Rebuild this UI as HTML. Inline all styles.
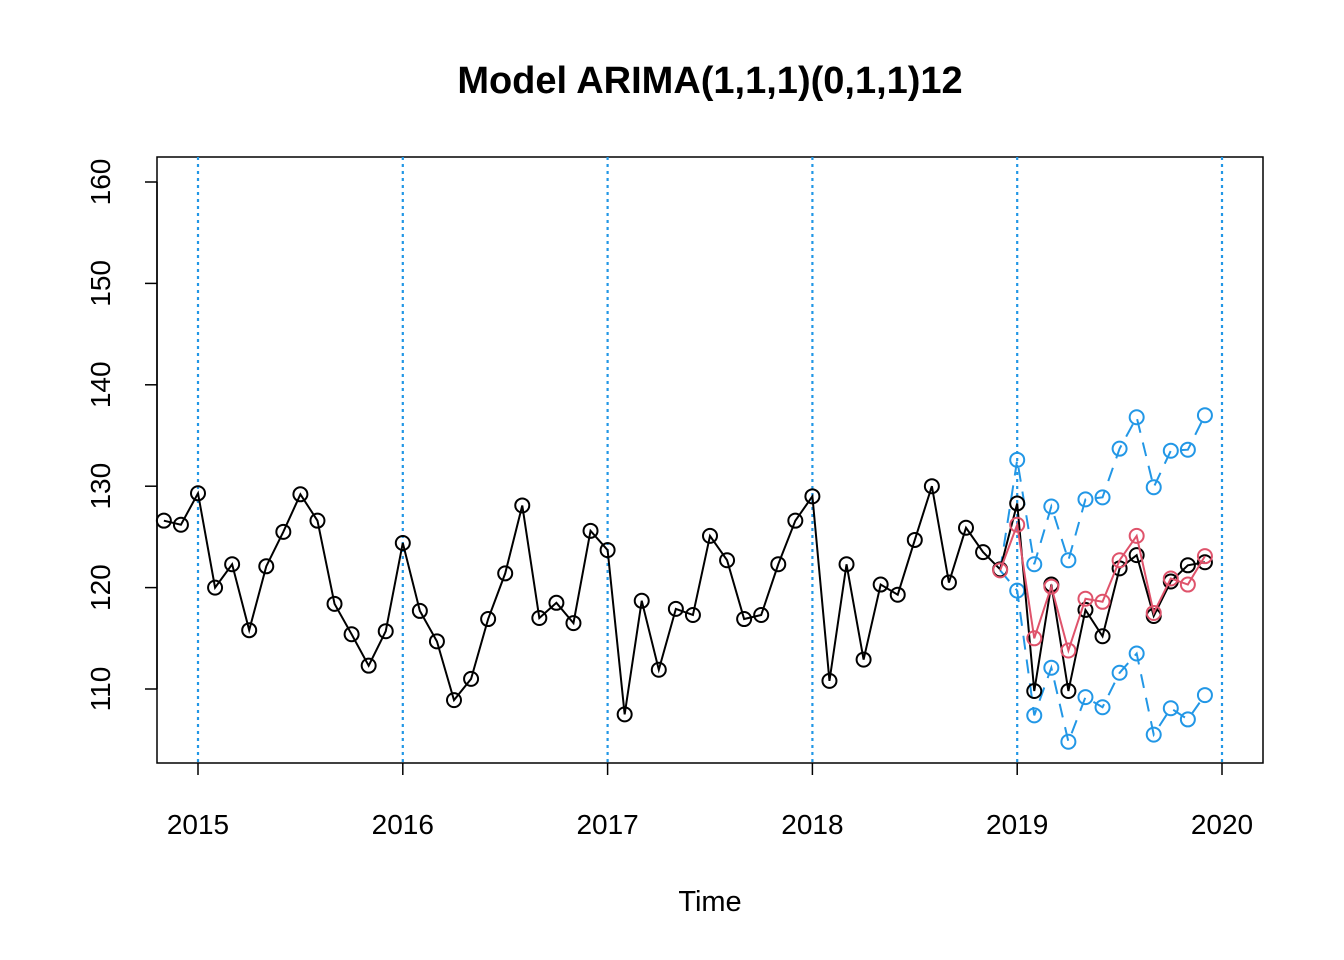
<!DOCTYPE html>
<html><head><meta charset="utf-8"><style>
body{margin:0;background:#fff}
svg{display:block;font-family:"Liberation Sans",Arial,sans-serif}
</style></head><body>
<svg id="chart" width="1344" height="960"></svg>
<script>
const startYear = 2014 + 10/12;
const observed = [126.6,126.2,129.3,120.0,122.3,115.8,122.1,125.5,129.2,126.6,118.4,115.4,112.3,115.7,124.4,117.7,114.7,108.9,111.0,116.9,121.4,128.1,117.0,118.5,116.5,125.6,123.7,107.5,118.7,111.9,117.9,117.3,125.1,122.7,116.9,117.3,122.3,126.6,129.0,110.8,122.3,112.9,120.3,119.3,124.7,130.0,120.5,125.9,123.5,121.8,128.3,109.8,120.3,109.8,117.8,115.2,121.9,123.2,117.2,120.6,122.2,122.5];
const fcStart = 2018 + 11/12;
const forecast = [121.7,126.2,115.0,120.1,113.8,118.9,118.6,122.7,125.1,117.5,120.9,120.3,123.1];
const upper = [132.6,122.3,128.0,122.7,128.7,128.9,133.7,136.8,129.9,133.5,133.6,137.0];
const lower = [119.7,107.4,112.1,104.8,109.2,108.2,111.6,113.5,105.5,108.1,107.0,109.4];
const yTicks = [110,120,130,140,150,160];
const xTicks = [2015,2016,2017,2018,2019,2020];

const NS="http://www.w3.org/2000/svg";
const svg=document.getElementById('chart');
const X=t=>198+(t-2015)*204.8;
const Y=v=>689-(v-110)*10.14;
function mk(tag,a,parent){const e=document.createElementNS(NS,tag);for(const k in a)e.setAttribute(k,a[k]);(parent||svg).appendChild(e);return e;}

const title=mk('text',{x:710,y:93,'text-anchor':'middle','font-size':38,'font-weight':'bold'});
title.textContent='Model ARIMA(1,1,1)(0,1,1)12';


const xt=mk('text',{x:710,y:911,'text-anchor':'middle','font-size':29});
xt.textContent='Time';



const box=mk('rect',{x:157,y:157,width:1106,height:606,fill:'none',stroke:'#000','stroke-width':1.5});



yTicks.forEach(v=>{
  const l=mk('line',{x1:145,x2:157,y1:Y(v),y2:Y(v),stroke:'#000','stroke-width':1.5});
  
  
  const t=mk('text',{x:110,y:Y(v),'text-anchor':'middle','font-size':28,transform:`rotate(-90 110 ${Y(v)})`});
  t.textContent=v;
  
  
});
mk('line',{x1:157,x2:157,y1:Y(110),y2:Y(160),stroke:'#000','stroke-width':1.5});
xTicks.forEach(v=>{
  const l=mk('line',{x1:X(v),x2:X(v),y1:763,y2:775,stroke:'#000','stroke-width':1.5});
  
  
  const t=mk('text',{x:X(v),y:834,'text-anchor':'middle','font-size':28});
  t.textContent=v;
  
  
  const g=mk('line',{x1:X(v),x2:X(v),y1:157,y2:763,stroke:'#2297E6','stroke-width':2.2,'stroke-dasharray':'3,4'});
  
  
});

function series(vals,t0,color,dash,name,prefix){
  let pts=vals.map((v,i)=>[X(t0+i/12),Y(v)]);
  if(prefix) pts=[prefix].concat(pts);
  const p=mk('polyline',{points:pts.map(p=>p.join(',')).join(' '),fill:'none',stroke:color,'stroke-width':2,'stroke-dasharray':dash||'none'});
  
  
  vals.forEach((v,i)=>{
    const c=mk('circle',{cx:X(t0+i/12),cy:Y(v),r:7,fill:'none',stroke:color,'stroke-width':2});
    
    
  });
}
const anchor=[X(fcStart),Y(forecast[0])];
series(upper,2019,'#2297E6','14,10','upper-bound',anchor);
series(lower,2019,'#2297E6','14,10','lower-bound',anchor);
series(observed,startYear,'#000',null,'observed');
series(forecast,fcStart,'#DF536B',null,'forecast');
</script>
</body></html>
